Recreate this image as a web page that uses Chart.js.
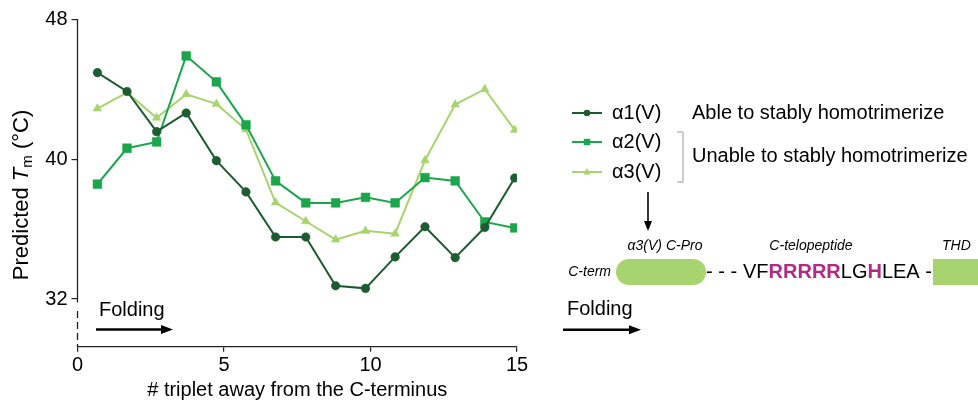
<!DOCTYPE html>
<html>
<head>
<meta charset="utf-8">
<script src="https://cdn.jsdelivr.net/npm/chart.js@4.4.1/dist/chart.umd.min.js"></script>
<style>
  html, body { margin: 0; padding: 0; background: #ffffff; }
  #wrap { width: 978px; height: 404px; position: relative; }
</style>
</head>
<body>
<div id="wrap"><canvas id="chart" width="978" height="404"></canvas></div>
<script>
// Triplet positions counted from the C-terminus
const tripletPos = [0.68, 1.69, 2.70, 3.71, 4.74, 5.75, 6.76, 7.79, 8.81, 9.83, 10.84, 11.86, 12.89, 13.90, 14.92];

// Predicted melting temperature (°C) per chain
const alpha1 = [44.96, 43.88, 41.58, 42.65, 39.92, 38.13, 35.55, 35.55, 32.76, 32.61, 34.41, 36.14, 34.37, 36.09, 38.93];
const alpha2 = [38.57, 40.63, 40.99, 45.92, 44.43, 41.97, 38.76, 37.50, 37.50, 37.82, 37.50, 38.95, 38.76, 36.41, 36.07];
const alpha3 = [42.90, 43.82, 42.37, 43.72, 43.17, 41.70, 37.52, 36.45, 35.40, 35.90, 35.74, 39.94, 43.13, 44.01, 41.68];

const seriesNames = ['\u03b11(V)', '\u03b12(V)', '\u03b13(V)'];
const groupNotes = ['Able to stably homotrimerize', 'Unable to stably homotrimerize'];

const xTickValues = [0, 5, 10, 15];
const yTickValues = [32, 40, 48];

const FONT = '"Liberation Sans", Arial, sans-serif';
const colors = ['#1d5c31', '#1ba64c', '#a8d46f'];
const magenta = '#b02a86';

function pts(vals) { return vals.map((v, i) => ({ x: tripletPos[i], y: v })); }

function drawArrowRight(ctx, x0, x1, y) {
  ctx.save();
  ctx.strokeStyle = '#000'; ctx.fillStyle = '#000'; ctx.lineWidth = 2.5;
  ctx.beginPath(); ctx.moveTo(x0, y); ctx.lineTo(x1 - 8, y); ctx.stroke();
  ctx.beginPath(); ctx.moveTo(x1, y); ctx.lineTo(x1 - 12, y - 4.5); ctx.lineTo(x1 - 12, y + 4.5); ctx.closePath(); ctx.fill();
  ctx.restore();
}

function drawMarker(ctx, style, x, y, r, color) {
  ctx.save();
  ctx.fillStyle = color;
  ctx.beginPath();
  if (style === 'circle') {
    ctx.arc(x, y, r, 0, Math.PI * 2);
  } else if (style === 'rect') {
    ctx.rect(x - r, y - r, 2 * r, 2 * r);
  } else {
    ctx.moveTo(x, y - r * 1.1); ctx.lineTo(x + r, y + r * 0.7); ctx.lineTo(x - r, y + r * 0.7); ctx.closePath();
  }
  ctx.fill();
  ctx.restore();
}

const decorations = {
  id: 'decorations',
  afterDraw(chart) {
    const { ctx, chartArea, scales } = chart;
    const ys = scales.y;
    const left = chartArea.left;

    // broken y axis: solid above the 32 tick, dashed below it
    const y32 = ys.getPixelForValue(32);
    ctx.save();
    ctx.strokeStyle = '#222'; ctx.lineWidth = 1.3;
    ctx.beginPath(); ctx.moveTo(left, chartArea.top); ctx.lineTo(left, y32 + 3.5); ctx.stroke();
    ctx.setLineDash([7, 4]);
    ctx.beginPath(); ctx.moveTo(left, y32 + 12); ctx.lineTo(left, chartArea.bottom); ctx.stroke();
    ctx.restore();

    // y axis title with italic T and subscript m
    ctx.save();
    ctx.translate(22, 195);
    ctx.rotate(-Math.PI / 2);
    ctx.fillStyle = '#000';
    ctx.textBaseline = 'middle';
    const parts = [
      { t: 'Predicted ', f: '22px ' + FONT, dy: 0 },
      { t: 'T', f: 'italic 22px ' + FONT, dy: 0 },
      { t: 'm', f: '15px ' + FONT, dy: 6 },
      { t: ' (\u00b0C)', f: '22px ' + FONT, dy: 0 }
    ];
    let total = 0;
    parts.forEach(p => { ctx.font = p.f; p.w = ctx.measureText(p.t).width; total += p.w; });
    let cx = -total / 2;
    parts.forEach(p => { ctx.font = p.f; ctx.fillText(p.t, cx, p.dy); cx += p.w; });
    ctx.restore();

    // x axis title
    ctx.save();
    ctx.fillStyle = '#000';
    ctx.font = '20px ' + FONT;
    ctx.textAlign = 'center'; ctx.textBaseline = 'middle';
    ctx.fillText('# triplet away from the C-terminus', (chartArea.left + chartArea.right) / 2, 390);
    ctx.restore();

    // folding direction inside the plot
    ctx.save();
    ctx.fillStyle = '#000';
    ctx.font = '20px ' + FONT;
    ctx.textBaseline = 'middle';
    ctx.fillText('Folding', 99, 310);
    ctx.restore();
    drawArrowRight(ctx, 96, 173, 329.5);

    // legend with line + marker samples
    const rows = [113, 142, 172];
    const legendR = [3.3, 3.2, 3.6];
    chart.data.datasets.forEach((ds, i) => {
      const yy = rows[i];
      ctx.save();
      ctx.strokeStyle = ds.borderColor; ctx.lineWidth = 2;
      ctx.beginPath(); ctx.moveTo(572, yy); ctx.lineTo(602, yy); ctx.stroke();
      ctx.restore();
      drawMarker(ctx, ds.pointStyle, 587, yy, legendR[i], ds.borderColor);
      ctx.save();
      ctx.fillStyle = '#000';
      ctx.font = '20px ' + FONT;
      ctx.textBaseline = 'middle';
      ctx.fillText(ds.label, 612, yy);
      ctx.restore();
    });

    ctx.save();
    ctx.fillStyle = '#000';
    ctx.font = '20px ' + FONT;
    ctx.textBaseline = 'middle';
    ctx.fillText(groupNotes[0], 692, 113);
    ctx.fillText(groupNotes[1], 692, 156);
    // bracket grouping the two chains that cannot homotrimerize
    ctx.strokeStyle = '#999'; ctx.lineWidth = 1;
    ctx.beginPath(); ctx.moveTo(677, 132); ctx.lineTo(683, 132); ctx.lineTo(683, 182); ctx.lineTo(677, 182); ctx.stroke();
    // arrow pointing to the domain diagram
    ctx.strokeStyle = '#000'; ctx.lineWidth = 1.6;
    ctx.beginPath(); ctx.moveTo(648, 192); ctx.lineTo(648, 224); ctx.stroke();
    ctx.beginPath(); ctx.moveTo(648, 231); ctx.lineTo(644, 221); ctx.lineTo(652, 221); ctx.closePath(); ctx.fill();
    ctx.restore();

    // domain diagram
    ctx.save();
    ctx.fillStyle = '#000';
    ctx.font = 'italic 14px ' + FONT;
    ctx.textBaseline = 'middle';
    ctx.textAlign = 'center';
    ctx.fillText('\u03b13(V) C-Pro', 665, 246);
    ctx.fillText('C-telopeptide', 811, 246);
    ctx.textAlign = 'left';
    ctx.fillText('THD', 942, 246);
    ctx.textAlign = 'right';
    ctx.fillText('C-term', 611, 272);

    ctx.fillStyle = '#a8d46f';
    ctx.beginPath(); ctx.roundRect(616, 259, 90, 26, 13); ctx.fill();
    ctx.fillRect(933, 259, 50, 26);

    ctx.textAlign = 'left';
    ctx.font = '20px ' + FONT;
    ctx.fillStyle = '#000';
    ctx.fillText('- - -', 706, 272);
    const seq = [
      { t: 'VF', c: '#000' }, { t: 'RRRRR', c: magenta }, { t: 'LG', c: '#000' },
      { t: 'H', c: magenta }, { t: 'LEA', c: '#000' }, { t: ' -', c: '#000' }
    ];
    let sx = 743;
    seq.forEach(s => {
      ctx.font = (s.c === magenta ? 'bold ' : '') + '20px ' + FONT;
      ctx.fillStyle = s.c;
      ctx.fillText(s.t, sx, 272);
      sx += ctx.measureText(s.t).width;
    });

    ctx.fillStyle = '#000';
    ctx.font = '20px ' + FONT;
    ctx.fillText('Folding', 567, 309);
    ctx.restore();
    drawArrowRight(ctx, 563, 641, 329.7);
  }
};

const data = {
  datasets: [
    { label: seriesNames[0], data: pts(alpha1), pointStyle: 'circle', pointRadius: 4.3 },
    { label: seriesNames[1], data: pts(alpha2), pointStyle: 'rect', pointRadius: 6.2 },
    { label: seriesNames[2], data: pts(alpha3), pointStyle: 'triangle', pointRadius: 5 }
  ].map((d, i) => Object.assign(d, {
    borderColor: colors[i],
    backgroundColor: colors[i],
    pointBackgroundColor: colors[i],
    pointBorderColor: colors[i],
    pointBorderWidth: 0.5,
    borderWidth: 2,
    tension: 0,
    fill: false
  }))
};

new Chart(document.getElementById('chart'), {
  type: 'line',
  data,
  options: {
    responsive: false,
    animation: false,
    devicePixelRatio: 1,
    layout: { padding: { left: 0, top: 19.5, right: 461, bottom: 0 } },
    plugins: { legend: { display: false }, tooltip: { enabled: false } },
    scales: {
      x: {
        type: 'linear', min: 0, max: 15,
        afterBuildTicks: s => { s.ticks = xTickValues.map(v => ({ value: v })); },
        afterFit: s => { s.height = 57.3; },
        grid: { drawOnChartArea: false, drawTicks: true, tickLength: 5, color: '#222', lineWidth: 1.2 },
        border: { display: true, color: '#222', width: 1.2 },
        ticks: { color: '#000', font: { family: FONT, size: 20 }, padding: 2, maxRotation: 0 }
      },
      y: {
        type: 'linear', min: 29.27, max: 48,
        afterBuildTicks: s => { s.ticks = yTickValues.map(v => ({ value: v })); },
        afterFit: s => { s.width = 77.5; },
        grid: { drawOnChartArea: false, drawTicks: true, tickLength: 6, color: '#222', lineWidth: 1.2 },
        border: { display: false },
        ticks: { color: '#000', font: { family: FONT, size: 20 }, padding: 4 }
      }
    }
  },
  plugins: [decorations]
});
</script>
</body>
</html>
